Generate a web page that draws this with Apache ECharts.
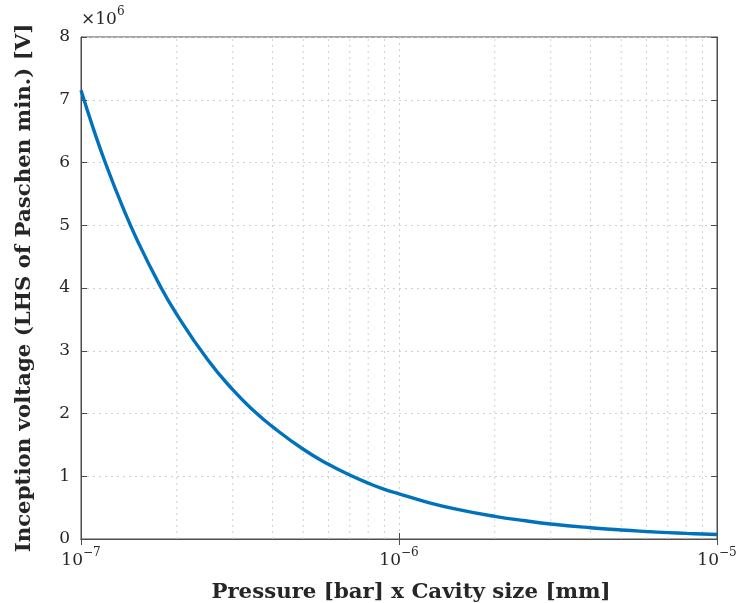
<!DOCTYPE html>
<html>
<head>
<meta charset="utf-8">
<script src="https://cdn.jsdelivr.net/npm/echarts@6/dist/echarts.min.js"></script>
<style>html,body{margin:0;padding:0;background:#fff}#c{width:737px;height:603px}</style>
</head>
<body>
<div id="c"></div>
<script>
// Pressure x cavity size [bar·mm]
const pressureCavity = [1.0e-7,1.1e-7,1.2e-7,1.35e-7,1.5e-7,1.75e-7,2.0e-7,2.5e-7,3.0e-7,3.5e-7,4.0e-7,5.0e-7,6.0e-7,7.0e-7,8.0e-7,9.0e-7,
  1.0e-6,1.2e-6,1.5e-6,2.0e-6,2.5e-6,3.0e-6,4.0e-6,5.0e-6,6.0e-6,7.0e-6,8.0e-6,9.0e-6,1.0e-5];
// Inception voltage, in units of 10^6 V
const inceptionVoltage = [7.15,6.50,5.96,5.30,4.77,4.09,3.58,2.86,2.38,2.04,1.79,1.43,1.19,1.02,0.89,0.79,
  0.72,0.60,0.48,0.36,0.29,0.24,0.18,0.143,0.119,0.102,0.089,0.080,0.072];
const yTicks = [0,1,2,3,4,5,6,7,8];
const xTickExponents = [-7,-6,-5];
const xMinorGrid = [2e-7,3e-7,4e-7,5e-7,6e-7,7e-7,8e-7,9e-7,2e-6,3e-6,4e-6,5e-6,6e-6,7e-6,8e-6,9e-6];

const serif = '"DejaVu Serif", "Liberation Serif", serif';
const axisCol = '#4d4d4d';
const gridCol = '#d0d0d0';
const txt = '#262626';

const chart = echarts.init(document.getElementById('c'), null, {renderer: 'canvas'});
const data = pressureCavity.map((p, i) => [p, inceptionVoltage[i]]);

const minorSeries = xMinorGrid.map(v => ({
  type: 'line', data: [[v, 0], [v, 8]], showSymbol: false, symbol: 'none', silent: true,
  lineStyle: {color: gridCol, type: [2, 4], width: 1}, z: 1, animation: false
}));

chart.setOption({
  animation: false,
  backgroundColor: '#fff',
  grid: {left: 81, right: 20, top: 37, bottom: 64, show: true, borderColor: axisCol, borderWidth: 1,
    containLabel: false, outerBoundsMode: 'none'},
  xAxis: [{
    type: 'log', logBase: 10, min: 1e-7, max: 1e-5,
    axisLine: {show: true, lineStyle: {color: axisCol, width: 1}},
    axisTick: {show: true, inside: true, length: 6, lineStyle: {color: axisCol}},
    splitLine: {show: true, lineStyle: {color: gridCol, type: [2, 4], width: 1}},
    axisLabel: {
      margin: 8,
      formatter: function (v) {
        const e = Math.round(Math.log10(v));
        if (xTickExponents.indexOf(e) < 0) return '';
        return '{b|10}{s|\u2212' + Math.abs(e) + '}';
      },
      rich: {
        b: {fontFamily: serif, fontSize: 17, color: txt, verticalAlign: 'bottom', lineHeight: 22},
        s: {fontFamily: serif, fontSize: 12, color: txt, verticalAlign: 'top', padding: [0, 0, 10, 0], lineHeight: 22}
      }
    },
    name: 'Pressure [bar] x Cavity size [mm]',
    nameLocation: 'middle', nameGap: 43,
    nameTextStyle: {fontFamily: serif, fontSize: 21.3, fontWeight: 'bold', color: txt, padding: [0, 0, 0, 24]}
  }, {
    type: 'log', logBase: 10, min: 1e-7, max: 1e-5, position: 'top',
    axisLine: {show: true, lineStyle: {color: axisCol}},
    axisTick: {show: true, inside: true, length: 6, lineStyle: {color: axisCol}},
    axisLabel: {show: false}, splitLine: {show: false}
  }],
  yAxis: [{
    type: 'value', min: 0, max: 8, interval: 1,
    axisLine: {show: true, lineStyle: {color: axisCol}},
    axisTick: {show: true, inside: true, length: 6, lineStyle: {color: axisCol}},
    splitLine: {show: true, lineStyle: {color: gridCol, type: [2, 4], width: 1}},
    axisLabel: {margin: 11, fontFamily: serif, fontSize: 17, color: txt,
      formatter: v => yTicks.indexOf(v) >= 0 ? String(v) : ''},
    name: 'Inception voltage (LHS of Paschen min.) [V]',
    nameLocation: 'middle', nameGap: 46, nameRotate: 90,
    nameTextStyle: {fontFamily: serif, fontSize: 21.3, fontWeight: 'bold', color: txt}
  }, {
    type: 'value', min: 0, max: 8, interval: 1, position: 'right',
    axisLine: {show: true, lineStyle: {color: axisCol}},
    axisTick: {show: true, inside: true, length: 6, lineStyle: {color: axisCol}},
    axisLabel: {show: false}, splitLine: {show: false}
  }],
  graphic: [{
    type: 'text', left: 81, top: 6,
    style: {
      text: '{a|\u00d710}{s|6}',
      rich: {
        a: {fontFamily: serif, fontSize: 17, fill: txt, verticalAlign: 'bottom', lineHeight: 22},
        s: {fontFamily: serif, fontSize: 12, fill: txt, verticalAlign: 'top', padding: [0, 0, 10, 0], lineHeight: 22}
      }
    }
  }],
  series: minorSeries.concat([{
    type: 'line', data: data, smooth: true, showSymbol: false, symbol: 'none',
    lineStyle: {color: '#0072BD', width: 3.4},
    z: 5
  }])
});
</script>
</body>
</html>
